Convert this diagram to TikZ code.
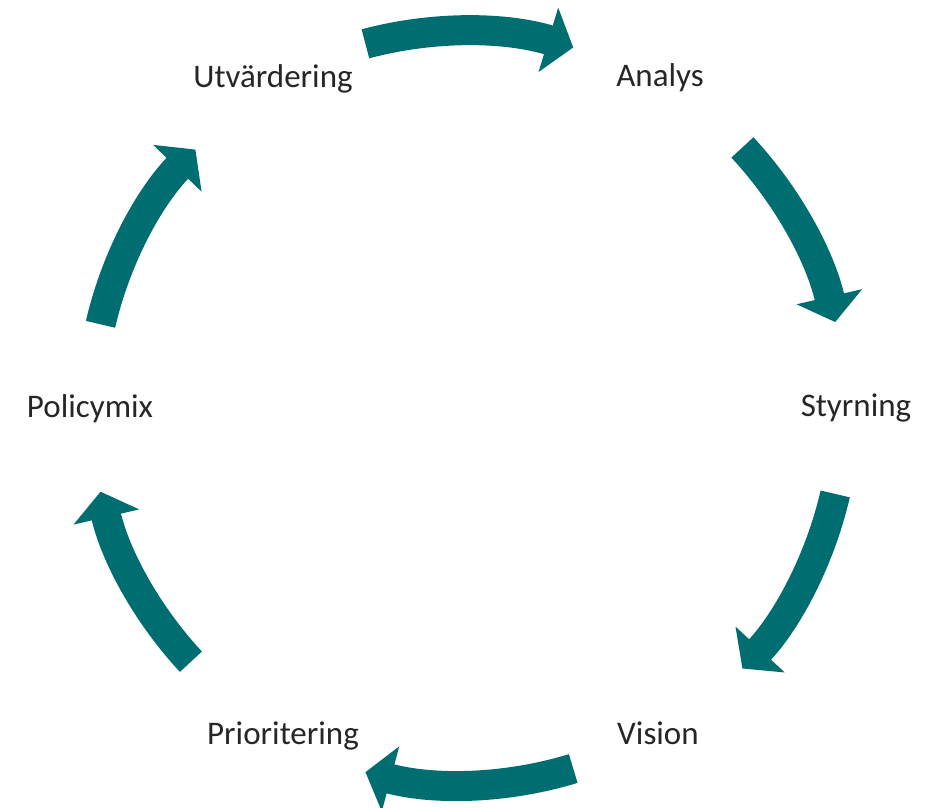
\documentclass[tikz,border=0pt]{standalone}
\usepackage{fontspec}
\setmainfont{Carlito}
\usetikzlibrary{arrows.meta}
\definecolor{cyclegreen}{RGB}{0,110,112}
\tikzset{
  cyclearrow/.style={draw=cyclegreen, line width=30pt,
    -{Triangle[length=26pt,width=66pt]}},
  steplabel/.style={anchor=base, text=black!85, font=\fontsize{33}{40}\selectfont}
}
\begin{document}
\begin{tikzpicture}[x=1pt,y=1pt]
    \useasboundingbox (0,0) rectangle (927,808);
    \coordinate (c) at (463,400);
    \node [steplabel] (utv) at (273,720) {Utvärdering};
    \node [steplabel] (ana) at (660,721) {Analys};
    \node [steplabel] (sty) at (856,391) {Styrning};
    \node [steplabel] (vis) at (658,63) {Vision};
    \node [steplabel] (pri) at (283,63) {Prioritering};
    \node [steplabel] (pol) at (90,390) {Policymix};
    \draw [cyclearrow] ([shift={(105:377)}]c) arc (105:73:377);
    \draw [cyclearrow] ([shift={(43:382)}]c) arc (43:13:382);
    \draw [cyclearrow] ([shift={(-13:382)}]c) arc (-13:-43:382);
    \draw [cyclearrow] ([shift={(-73:377)}]c) arc (-73:-105:377);
    \draw [cyclearrow] ([shift={(-137:372)}]c) arc (-137:-167:372);
    \draw [cyclearrow] ([shift={(167:372)}]c) arc (167:136:372);
  \end{tikzpicture}
\end{document}
